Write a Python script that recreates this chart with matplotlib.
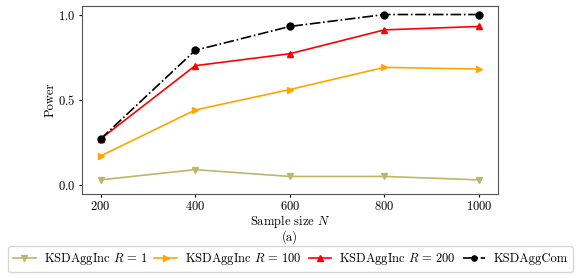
import matplotlib
matplotlib.use("Agg")
import matplotlib.pyplot as plt

plt.rcParams["font.family"] = "serif"
plt.rcParams["font.serif"] = ["cmr10"]
plt.rcParams["mathtext.fontset"] = "cm"
plt.rcParams["axes.formatter.use_mathtext"] = True
plt.rcParams["font.size"] = 9

sample_sizes = [200, 400, 600, 800, 1000]
power_r1 = [0.03, 0.09, 0.05, 0.05, 0.03]
power_r100 = [0.17, 0.44, 0.56, 0.69, 0.68]
power_r200 = [0.27, 0.70, 0.77, 0.91, 0.93]
power_com = [0.27, 0.79, 0.93, 1.00, 1.00]

fig = plt.figure(figsize=(5.81, 2.78), dpi=100)
ax = fig.add_axes([81.7 / 581, 1 - 193.5 / 278, (498 - 81.7) / 581, (193.5 - 6) / 278])

ax.plot(sample_sizes, power_r1, color="darkkhaki", marker="v", markersize=5,
        linewidth=1.2, label=r"KSDAggInc $R\,=\,1$")
ax.plot(sample_sizes, power_r100, color="orange", marker=">", markersize=5,
        linewidth=1.2, label=r"KSDAggInc $R\,=\,100$")
ax.plot(sample_sizes, power_r200, color="red", marker="^", markersize=5,
        linewidth=1.2, label=r"KSDAggInc $R\,=\,200$")
ax.plot(sample_sizes, power_com, color="black", marker="o", markersize=5,
        linewidth=1.2, linestyle="-.", label="KSDAggCom")

ax.set_xticks(sample_sizes)
ax.set_yticks([0.0, 0.5, 1.0])
ax.set_ylim(-0.05, 1.05)
ax.tick_params(length=2.5, pad=2)
ax.set_ylabel("Power", labelpad=1)
ax.set_xlabel("Sample size $N$\n(a)", linespacing=1.0, labelpad=0)
for s in ax.spines.values():
    s.set_color("#555555")

fig.legend(loc="lower center", ncol=4, bbox_to_anchor=(0.5, 6 / 278),
           borderaxespad=0, handlelength=1.8, columnspacing=0.55,
           handletextpad=0.65, borderpad=0.4, markerscale=0.75)

fig.savefig("out.png", dpi=100)
